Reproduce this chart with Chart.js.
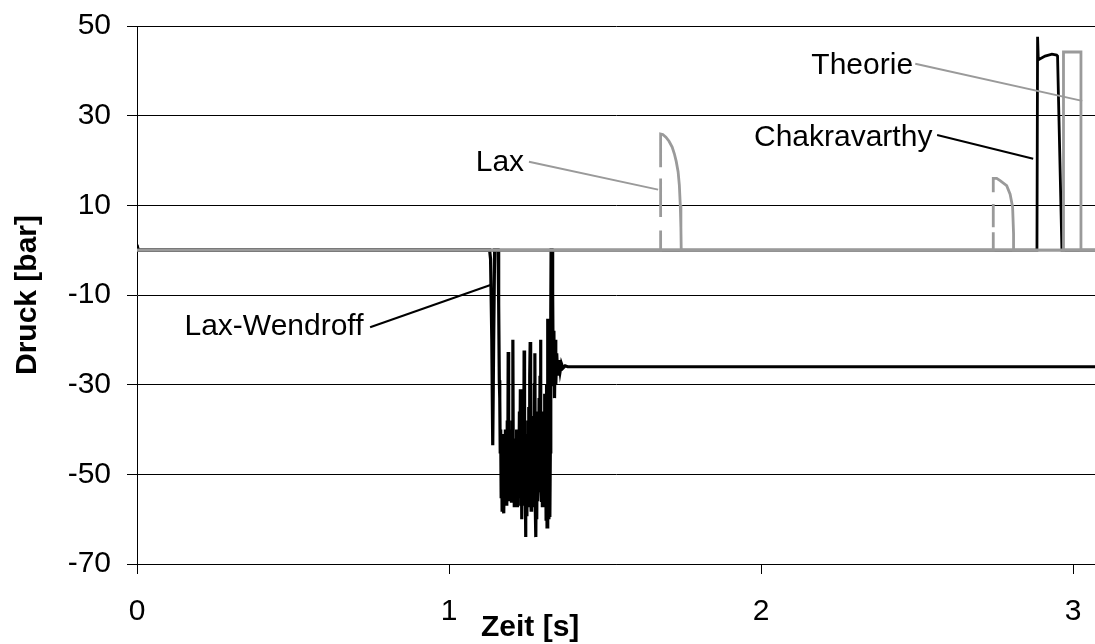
<!DOCTYPE html>
<html>
<head>
<meta charset="utf-8">
<script src="https://cdn.jsdelivr.net/npm/chart.js@4.4.0/dist/chart.umd.min.js"></script>
<style>
    html, body { margin: 0; padding: 0; background: #fff; }
    #wrap { width: 1095px; height: 644px; position: relative; }
</style>
</head>
<body>
<div id="wrap"><canvas id="chart"></canvas></div>
<script>
// Druck über Zeit, [Zeit s, Druck bar]
const theorie = [
    [0, 0], [2.969, 0], [2.969, 44.2], [3.025, 44.2], [3.025, 0], [3.07, 0]
];

// gaps (null) reproduce the broken vertical strokes of the Lax pulses
const lax = [
    [0, 0], [1.678, 0], [1.678, 4.4], [1.678, null], [1.678, 7.4], [1.678, 16],
    [1.678, null], [1.678, 18.5], [1.678, 25.9], [1.685, 25.8], [1.695, 25.2],
    [1.705, 24.3], [1.715, 23], [1.722, 21.5], [1.728, 19.8], [1.734, 17.5],
    [1.738, 14.5], [1.741, 10], [1.743, 5], [1.744, 0],
    [2.744, 0], [2.744, 4], [2.744, null], [2.744, 5.1], [2.744, 10.3],
    [2.744, null], [2.744, 12.9], [2.744, 16], [2.755, 16], [2.766, 15.5],
    [2.787, 14.4], [2.798, 12.5], [2.806, 9.6], [2.809, 3.7], [2.809, 0], [3.07, 0]
];

const chakravarthy = [
    [0, 0], [2.884, 0], [2.886, 47.6], [2.888, 43], [2.892, 42.6], [2.910, 43.3],
    [2.932, 43.7], [2.947, 43.5], [2.950, 43.3], [2.964, 0], [3.07, 0]
];

const laxWendroff = [
    [0, 1.2], [0.004, 0], [1.130, 0], [1.133, -2], [1.137, -20], [1.140, -43.5],
    [1.143, -20], [1.146, 0], [1.157, 0], [1.159, -12], [1.161, -29], [1.1625, -33],
    [1.164, -45], [1.1655, -40], [1.167, -55], [1.1685, -42], [1.170, -58],
    [1.1715, -44], [1.173, -56], [1.1745, -41], [1.176, -58.7], [1.1775, -45],
    [1.179, -57], [1.1805, -40], [1.182, -55], [1.1835, -43], [1.185, -57],
    [1.1865, -38], [1.188, -54], [1.1895, -22.7], [1.191, -50], [1.1925, -42],
    [1.194, -56], [1.1955, -44], [1.197, -55], [1.1985, -40], [1.200, -56],
    [1.2015, -38], [1.203, -52], [1.2045, -20], [1.206, -53], [1.2075, -45],
    [1.209, -57], [1.2105, -42], [1.212, -56], [1.2135, -44], [1.215, -55],
    [1.2165, -40], [1.218, -57], [1.2195, -42], [1.221, -55], [1.2225, -40],
    [1.224, -54], [1.2255, -36], [1.227, -50], [1.2285, -31], [1.230, -57],
    [1.2315, -44], [1.233, -60], [1.2345, -42], [1.236, -57], [1.2375, -40],
    [1.239, -54], [1.2405, -22.4], [1.242, -55], [1.2435, -45], [1.245, -64],
    [1.2465, -44], [1.248, -59], [1.2495, -41], [1.251, -57], [1.2525, -38],
    [1.254, -56], [1.2555, -35], [1.257, -52], [1.2585, -28], [1.260, -20.5],
    [1.2615, -54], [1.263, -58], [1.2645, -43], [1.266, -57], [1.2675, -40],
    [1.269, -55], [1.2705, -37], [1.272, -52], [1.2735, -30], [1.275, -23],
    [1.2765, -58], [1.278, -64], [1.2795, -44], [1.281, -60], [1.2825, -42],
    [1.284, -56], [1.2855, -36], [1.287, -54], [1.2885, -33], [1.290, -50],
    [1.2915, -28], [1.293, -20], [1.2945, -52], [1.296, -55.8], [1.2975, -42],
    [1.299, -57], [1.3005, -40], [1.302, -55], [1.3035, -36], [1.305, -52],
    [1.3065, -32], [1.308, -56], [1.3095, -42], [1.311, -60], [1.3125, -30],
    [1.314, -61.7], [1.3155, -45], [1.317, -15.3], [1.3185, -50], [1.320, -60],
    [1.3215, -44], [1.323, -59.5], [1.3245, -45], [1.326, -14], [1.327, 0],
    [1.330, 0], [1.332, -10], [1.334, -30], [1.336, -18], [1.338, -33],
    [1.340, -20], [1.342, -30], [1.345, -23], [1.348, -28], [1.352, -24.5],
    [1.356, -27], [1.360, -25.3], [1.365, -26.3], [1.372, -25.8], [1.380, -26],
    [3.07, -26]
];

const xTicks = [0, 1, 2, 3];
const yTicks = [50, 30, 10, -10, -30, -50, -70];

const GREY = '#9a9a9a';
const BLACK = '#000000';
const FONT = '"Liberation Sans", Arial, sans-serif';

const callouts = [
    { text: 'Theorie', color: GREY, at: [2.324, 41.1], from: [2.494, 41.6], to: [3.029, 33.3] },
    { text: 'Chakravarthy', color: BLACK, at: [2.263, 25.1], from: [2.564, 25.7], to: [2.872, 20.4] },
    { text: 'Lax', color: GREY, at: [1.163, 19.5], from: [1.256, 19.7], to: [1.670, 13.5] },
    { text: 'Lax-Wendroff', color: BLACK, at: [0.439, -17.0], from: [0.747, -17.2], to: [1.135, -7.7] }
];

const toPoints = arr => arr.map(([x, y]) => ({ x, y }));

const calloutPlugin = {
    id: 'callouts',
    afterDatasetsDraw(chart) {
        const { ctx, scales: { x, y } } = chart;
        ctx.save();
        ctx.lineWidth = 2;
        for (const c of callouts) {
            ctx.strokeStyle = c.color;
            ctx.beginPath();
            ctx.moveTo(x.getPixelForValue(c.from[0]), y.getPixelForValue(c.from[1]));
            ctx.lineTo(x.getPixelForValue(c.to[0]), y.getPixelForValue(c.to[1]));
            ctx.stroke();
            ctx.fillStyle = '#000';
            ctx.font = '30px ' + FONT;
            ctx.textAlign = 'center';
            ctx.textBaseline = 'middle';
            ctx.fillText(c.text, x.getPixelForValue(c.at[0]), y.getPixelForValue(c.at[1]));
        }
        // x axis title sits left of centre in the original
        ctx.font = 'bold 30px ' + FONT;
        ctx.fillText('Zeit [s]', x.getPixelForValue(1.26), 628);
        ctx.restore();
    }
};

const dataset = (label, pts, color, width) => ({
    label,
    data: toPoints(pts),
    borderColor: color,
    backgroundColor: color,
    borderWidth: width,
    pointRadius: 0,
    tension: 0,
    spanGaps: false,
    showLine: true
});

new Chart(document.getElementById('chart'), {
    type: 'scatter',
    data: {
        datasets: [
            dataset('Theorie', theorie, GREY, 2.8),
            dataset('Lax', lax, GREY, 2.8),
            dataset('Chakravarthy', chakravarthy, BLACK, 2.8),
            dataset('Lax-Wendroff', laxWendroff, BLACK, 3.2)
        ]
    },
    options: {
        responsive: true,
        maintainAspectRatio: false,
        animation: false,
        layout: { padding: { top: 26, right: 0, left: 0, bottom: 0 } },
        plugins: { legend: { display: false }, tooltip: { enabled: false } },
        scales: {
            x: {
                type: 'linear',
                min: 0, max: 3.07,
                afterBuildTicks: s => { s.ticks = xTicks.map(v => ({ value: v })); },
                afterFit: s => { s.height = 80; s.paddingLeft = 0; s.paddingRight = 0; },
                ticks: { color: '#000', font: { family: FONT, size: 30 }, padding: 20, maxRotation: 0 },
                grid: { drawOnChartArea: false, color: BLACK, tickLength: 10, tickColor: BLACK },
                border: { color: BLACK, width: 1 }
            },
            y: {
                min: -70, max: 50,
                afterBuildTicks: s => { s.ticks = yTicks.map(v => ({ value: v })); },
                afterFit: s => { s.width = 137; s.paddingTop = 0; s.paddingBottom = 0; },
                ticks: { color: '#000', font: { family: FONT, size: 30 }, padding: 16 },
                grid: { color: BLACK, lineWidth: 1, tickLength: 10 },
                border: { color: BLACK, width: 1 },
                title: {
                    display: true, text: 'Druck [bar]', color: '#000',
                    font: { family: FONT, size: 30, weight: 'bold' },
                    padding: { top: 10, bottom: 0 }
                }
            }
        }
    },
    plugins: [calloutPlugin]
});
</script>
</body>
</html>
